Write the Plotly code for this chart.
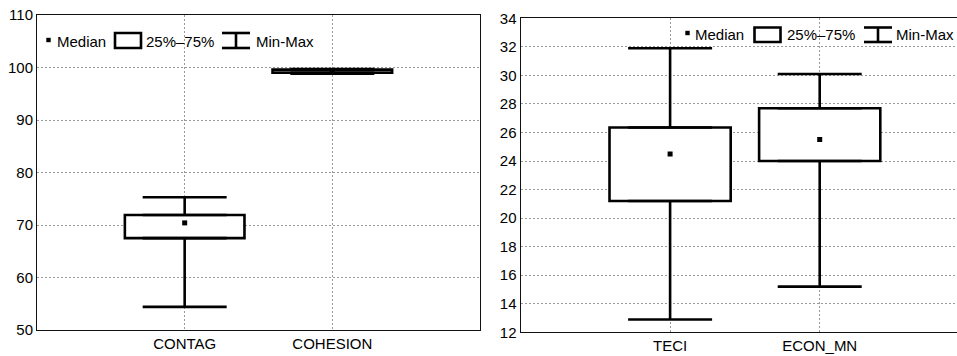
import numpy as np
import plotly.graph_objects as go

# ---------------- data ----------------
left_cats = ["CONTAG", "COHESION"]
left_min = [54.4, 98.8]
left_q1 = [67.5, 99.0]
left_median = [70.4, 99.3]
left_q3 = [71.9, 99.6]
left_max = [75.3, 99.7]
left_yticks = [50, 60, 70, 80, 90, 100, 110]

right_cats = ["TECI", "ECON_MN"]
right_min = [12.9, 15.2]
right_q1 = [21.2, 24.0]
right_median = [24.5, 25.5]
right_q3 = [26.35, 27.7]
right_max = [31.9, 30.1]
right_yticks = [12, 14, 16, 18, 20, 22, 24, 26, 28, 30, 32, 34]

legend_labels = ["Median", "25%\u201375%", "Min-Max"]

# ---------------- styling ----------------
W, H = 957, 356
FONT = "Liberation Sans, Arial, sans-serif"
BOX_W = 0.81
CAP_HALF_PX = 42
LW = 2.6


def px(x):
    return x / W


def py(y):
    return 1 - y / H


fig = go.Figure()


def add_panel(cats, mn, q1, med, q3, mx, xa, ya, fills):
    q1 = np.array(q1, dtype=float)
    q3 = np.array(q3, dtype=float)
    mn = np.array(mn, dtype=float)
    mx = np.array(mx, dtype=float)
    fig.add_trace(go.Bar(
        x=cats, y=q3 - q1, base=q1, width=BOX_W,
        marker=dict(color=fills, line=dict(color="black", width=LW)),
        xaxis=xa, yaxis=ya, hoverinfo="skip"))
    # upper whiskers
    fig.add_trace(go.Scatter(
        x=cats, y=q3, mode="markers", marker=dict(size=1, opacity=0),
        error_y=dict(type="data", symmetric=False, array=mx - q3,
                     arrayminus=np.zeros(len(cats)), width=CAP_HALF_PX,
                     thickness=LW, color="black"),
        xaxis=xa, yaxis=ya, hoverinfo="skip"))
    # lower whiskers
    fig.add_trace(go.Scatter(
        x=cats, y=q1, mode="markers", marker=dict(size=1, opacity=0),
        error_y=dict(type="data", symmetric=False, array=np.zeros(len(cats)),
                     arrayminus=q1 - mn, width=CAP_HALF_PX,
                     thickness=LW, color="black"),
        xaxis=xa, yaxis=ya, hoverinfo="skip"))
    # medians
    fig.add_trace(go.Scatter(
        x=cats, y=med, mode="markers",
        marker=dict(symbol="square", size=5, color="black",
                    line=dict(width=0)),
        xaxis=xa, yaxis=ya))


add_panel(left_cats, left_min, left_q1, left_median, left_q3, left_max,
          "x", "y", ["white", "#9a9a9a"])
add_panel(right_cats, right_min, right_q1, right_median, right_q3, right_max,
          "x2", "y2", ["white", "white"])

axis_common = dict(
    showline=True, linecolor="#111111", linewidth=1,
    showgrid=True, gridcolor="#9a9a9a", gridwidth=1, griddash="2px,2px",
    zeroline=False, ticks="", automargin=False,
    tickfont=dict(family=FONT, size=15, color="black"),
)

left_x0, left_x1 = 37, 480
right_x0 = 520.5
unit_r = 149.6
fig.update_layout(
    xaxis=dict(domain=[px(left_x0), px(left_x1)], anchor="y",
               type="category", range=[-1, 2], mirror=True, **axis_common),
    yaxis=dict(domain=[py(330), py(15)], anchor="x",
               range=[50, 110], tickvals=left_yticks, mirror=True,
               **axis_common),
    xaxis2=dict(domain=[px(right_x0), 1], anchor="y2",
                type="category", range=[-1, -1 + (W - right_x0) / unit_r],
                mirror=True, **axis_common),
    yaxis2=dict(domain=[py(332.3), py(18.3)], anchor="x2",
                range=[12, 34], tickvals=right_yticks, mirror=False,
                **axis_common),
)

# ---------------- legends (drawn inside each panel) ----------------
shapes = []
annotations = []


def legend(x_sq, y_c, x_med, x_box, x_q, x_wh, x_mm, y_top, y_bot):
    s = 2.2
    shapes.append(dict(type="rect", xref="paper", yref="paper",
                       x0=px(x_sq - s), x1=px(x_sq + s),
                       y0=py(y_c - 1 + s), y1=py(y_c - 1 - s),
                       fillcolor="black", line=dict(width=0)))
    shapes.append(dict(type="rect", xref="paper", yref="paper",
                       x0=px(x_box), x1=px(x_box + 26),
                       y0=py(y_bot), y1=py(y_top),
                       fillcolor="white", line=dict(color="black", width=LW)))
    xm = x_wh + 14
    for (xa0, ya0, xa1, ya1) in [(x_wh, y_top, x_wh + 28, y_top),
                                 (x_wh, y_bot, x_wh + 28, y_bot),
                                 (xm, y_top, xm, y_bot)]:
        shapes.append(dict(type="line", xref="paper", yref="paper",
                           x0=px(xa0), y0=py(ya0), x1=px(xa1), y1=py(ya1),
                           line=dict(color="black", width=LW)))
    for txt, xx in zip(legend_labels, [x_med, x_q, x_mm]):
        annotations.append(dict(text=txt, xref="paper", yref="paper",
                                x=px(xx), y=py(y_c), xanchor="left",
                                yanchor="middle", showarrow=False,
                                font=dict(family=FONT, size=15, color="black")))


legend(48.5, 41, 55, 115, 144, 222, 254, 33, 48)
legend(687.5, 34, 693, 754.5, 785, 864, 894, 27.5, 42)

fig.update_layout(
    width=W, height=H,
    margin=dict(l=0, r=0, t=0, b=0),
    paper_bgcolor="white", plot_bgcolor="white",
    showlegend=False, bargap=0,
    shapes=shapes, annotations=annotations,
    font=dict(family=FONT, size=15, color="black"),
)

fig.write_html(
    "out.html",
    config={"displayModeBar": False, "staticPlot": True},
    post_script="document.body.style.margin='0';document.body.style.overflow='hidden';",
)
